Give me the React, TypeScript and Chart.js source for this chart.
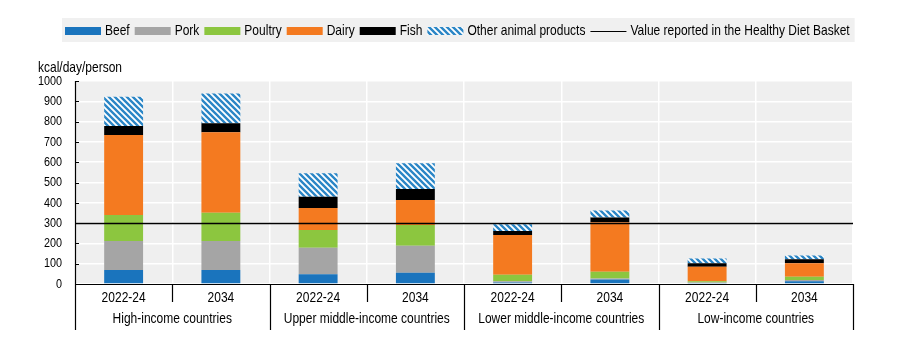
import React, { useEffect, useRef } from "react";
import { Chart, registerables } from "chart.js";

Chart.register(...registerables);

// ---- data (kcal/day/person) ----
const periods = ["2022-24", "2034", "2022-24", "2034", "2022-24", "2034", "2022-24", "2034"];
const groups = [
  "High-income countries",
  "Upper middle-income countries",
  "Lower middle-income countries",
  "Low-income countries",
];
const beef = [69, 69, 48, 56, 7, 22, 5, 13];
const pork = [143, 143, 131, 133, 6, 5, 3, 7];
const poultry = [128, 139, 87, 102, 32, 33, 6, 16];
const dairy = [394, 396, 108, 123, 196, 244, 71, 66];
const fish = [44, 45, 56, 54, 20, 24, 17, 20];
const otherAnimal = [144, 147, 115, 127, 33, 34, 24, 19];
const healthyDietValue = 300;
const yTicks = [0, 100, 200, 300, 400, 500, 600, 700, 800, 900, 1000];
const seriesNames = ["Beef", "Pork", "Poultry", "Dairy", "Fish", "Other animal products"];
const lineLabel = "Value reported in the Healthy Diet Basket";
const yTitle = "kcal/day/person";

// ---- styles ----
const FONT = "'Liberation Sans', Arial, sans-serif";
const SQUEEZE = 0.8;
const COLORS = ["#1a74bd", "#a5a5a5", "#8cc63f", "#f47a20", "#000000"];
const HATCH = "#2b86c6";
const PLOT_BG = "#efefef";
const LEGEND_BG = "#f0f0f0";

function makeHatch(): CanvasPattern | string {
  const p = 6;
  const c = document.createElement("canvas");
  c.width = p;
  c.height = p;
  const g = c.getContext("2d");
  if (!g) return HATCH;
  g.fillStyle = "#ffffff";
  g.fillRect(0, 0, p, p);
  g.strokeStyle = HATCH;
  g.lineWidth = 2.4;
  g.beginPath();
  for (const k of [-1, 0, 1]) {
    g.moveTo(k * p - 1, -1);
    g.lineTo(k * p + p + 1, p + 1);
  }
  g.stroke();
  const pat = g.createPattern(c, "repeat");
  return pat || HATCH;
}

function measure(ctx: CanvasRenderingContext2D, text: string, size: number) {
  ctx.save();
  ctx.font = `${size}px ${FONT}`;
  const w = ctx.measureText(text).width * SQUEEZE;
  ctx.restore();
  return w;
}

function sText(
  ctx: CanvasRenderingContext2D,
  text: string,
  x: number,
  y: number,
  align: CanvasTextAlign,
  size: number
) {
  ctx.save();
  ctx.font = `${size}px ${FONT}`;
  ctx.fillStyle = "#000";
  ctx.textBaseline = "middle";
  ctx.textAlign = align;
  ctx.translate(x, y);
  ctx.scale(SQUEEZE, 1);
  ctx.fillText(text, 0, 0);
  ctx.restore();
}

export default function App() {
  const ref = useRef<HTMLCanvasElement | null>(null);

  useEffect(() => {
    const canvas = ref.current;
    if (!canvas) return;
    const hatch = makeHatch();
    const fills: any[] = [...COLORS, hatch];
    const values = [beef, pork, poultry, dairy, fish, otherAnimal];

    const custom = {
      id: "custom",
      beforeDraw(chart: any) {
        const { ctx, chartArea: ca } = chart;
        ctx.save();
        ctx.fillStyle = PLOT_BG;
        ctx.fillRect(ca.left, ca.top, ca.right - ca.left, ca.bottom - ca.top);
        ctx.restore();
      },
      afterDatasetsDraw(chart: any) {
        const { ctx, chartArea: ca } = chart;
        const x = chart.scales.x;
        const y = chart.scales.y;
        ctx.save();

        // healthy diet basket line
        const yv = Math.round(y.getPixelForValue(healthyDietValue)) + 0.5;
        ctx.strokeStyle = "#000";
        ctx.lineWidth = 1.6;
        ctx.beginPath();
        ctx.moveTo(ca.left, yv);
        ctx.lineTo(ca.right, yv);
        ctx.stroke();

        // axes
        ctx.lineWidth = 1.2;
        ctx.beginPath();
        ctx.moveTo(ca.left + 0.5, ca.top);
        ctx.lineTo(ca.left + 0.5, ca.bottom);
        ctx.moveTo(ca.left, ca.bottom + 0.5);
        ctx.lineTo(ca.right, ca.bottom + 0.5);
        for (const t of yTicks) {
          const py = Math.round(y.getPixelForValue(t)) + 0.5;
          ctx.moveTo(ca.left, py);
          ctx.lineTo(ca.left + 4, py);
        }
        ctx.stroke();

        // y tick labels
        for (const t of yTicks) {
          sText(ctx, String(t), ca.left - 13, y.getPixelForValue(t), "right", 13.5);
        }

        // category separators below axis
        const n = periods.length;
        const step = (ca.right - ca.left) / n;
        ctx.lineWidth = 1.2;
        ctx.beginPath();
        for (let i = 0; i <= n; i++) {
          const px = Math.round(ca.left + i * step) + 0.5;
          const len = i % 2 === 0 ? 46 : 18;
          ctx.moveTo(px, ca.bottom);
          ctx.lineTo(px, ca.bottom + len);
        }
        ctx.stroke();

        // x tick labels
        periods.forEach((p, i) => {
          sText(ctx, p, x.getPixelForValue(i), ca.bottom + 14, "center", 15);
        });

        // group labels
        groups.forEach((g, i) => {
          const cx = (x.getPixelForValue(2 * i) + x.getPixelForValue(2 * i + 1)) / 2;
          sText(ctx, g, cx, ca.bottom + 35, "center", 15);
        });

        // y title
        sText(ctx, yTitle, ca.left - 37, ca.top - 13, "left", 15);

        // legend
        const boxW = 36;
        const boxH = 8;
        const gapIn = 4;
        const gapOut = 5;
        const labels = [...seriesNames, lineLabel];
        const widths = labels.map((l) => boxW + gapIn + measure(ctx, l, 15));
        const total = widths.reduce((a, b) => a + b, 0) + gapOut * (labels.length - 1);
        let lx = Math.round(chart.width / 2 - total / 2 + 2);
        const ly = 22.5;
        ctx.fillStyle = LEGEND_BG;
        ctx.fillRect(lx - 3, 10, total + 8, 24);
        labels.forEach((l, i) => {
          if (i < fills.length) {
            ctx.fillStyle = fills[i];
            ctx.fillRect(lx, Math.round(ly - boxH / 2), boxW, boxH);
          } else {
            ctx.strokeStyle = "#000";
            ctx.lineWidth = 1.2;
            ctx.beginPath();
            ctx.moveTo(lx, Math.round(ly) + 0.5);
            ctx.lineTo(lx + boxW, Math.round(ly) + 0.5);
            ctx.stroke();
          }
          sText(ctx, l, lx + boxW + gapIn, ly, "left", 15);
          lx += widths[i] + gapOut;
        });

        ctx.restore();
      },
    };

    const chart = new Chart(canvas, {
      type: "bar",
      data: {
        labels: periods,
        datasets: values.map((v, i) => ({
          label: seriesNames[i],
          data: v,
          backgroundColor: fills[i],
          borderWidth: 0,
          barPercentage: 0.4,
          categoryPercentage: 1,
        })),
      },
      options: {
        animation: false,
        responsive: false,
        maintainAspectRatio: false,
        layout: { padding: { top: 73, right: 49, bottom: 0, left: 0 } },
        plugins: {
          legend: { display: false },
          tooltip: { enabled: false },
        },
        scales: {
          x: {
            stacked: true,
            grid: { color: "#ffffff", lineWidth: 1.5, drawTicks: false, offset: true },
            border: { display: false },
            ticks: { display: false },
            afterFit: (s: any) => {
              s.height = 53;
            },
          },
          y: {
            stacked: true,
            min: 0,
            max: 1000,
            afterBuildTicks: (s: any) => {
              s.ticks = yTicks.map((v) => ({ value: v }));
            },
            grid: { color: "#ffffff", lineWidth: 1.5, drawTicks: false },
            border: { display: false },
            ticks: { display: false },
            afterFit: (s: any) => {
              s.width = 67;
            },
          },
        },
      },
      plugins: [custom],
    });
    return () => chart.destroy();
  }, []);

  return (
    <div style={{ width: 894, height: 329 }}>
      <canvas ref={ref} width={894} height={329} style={{ display: "block" }} />
    </div>
  );
}
